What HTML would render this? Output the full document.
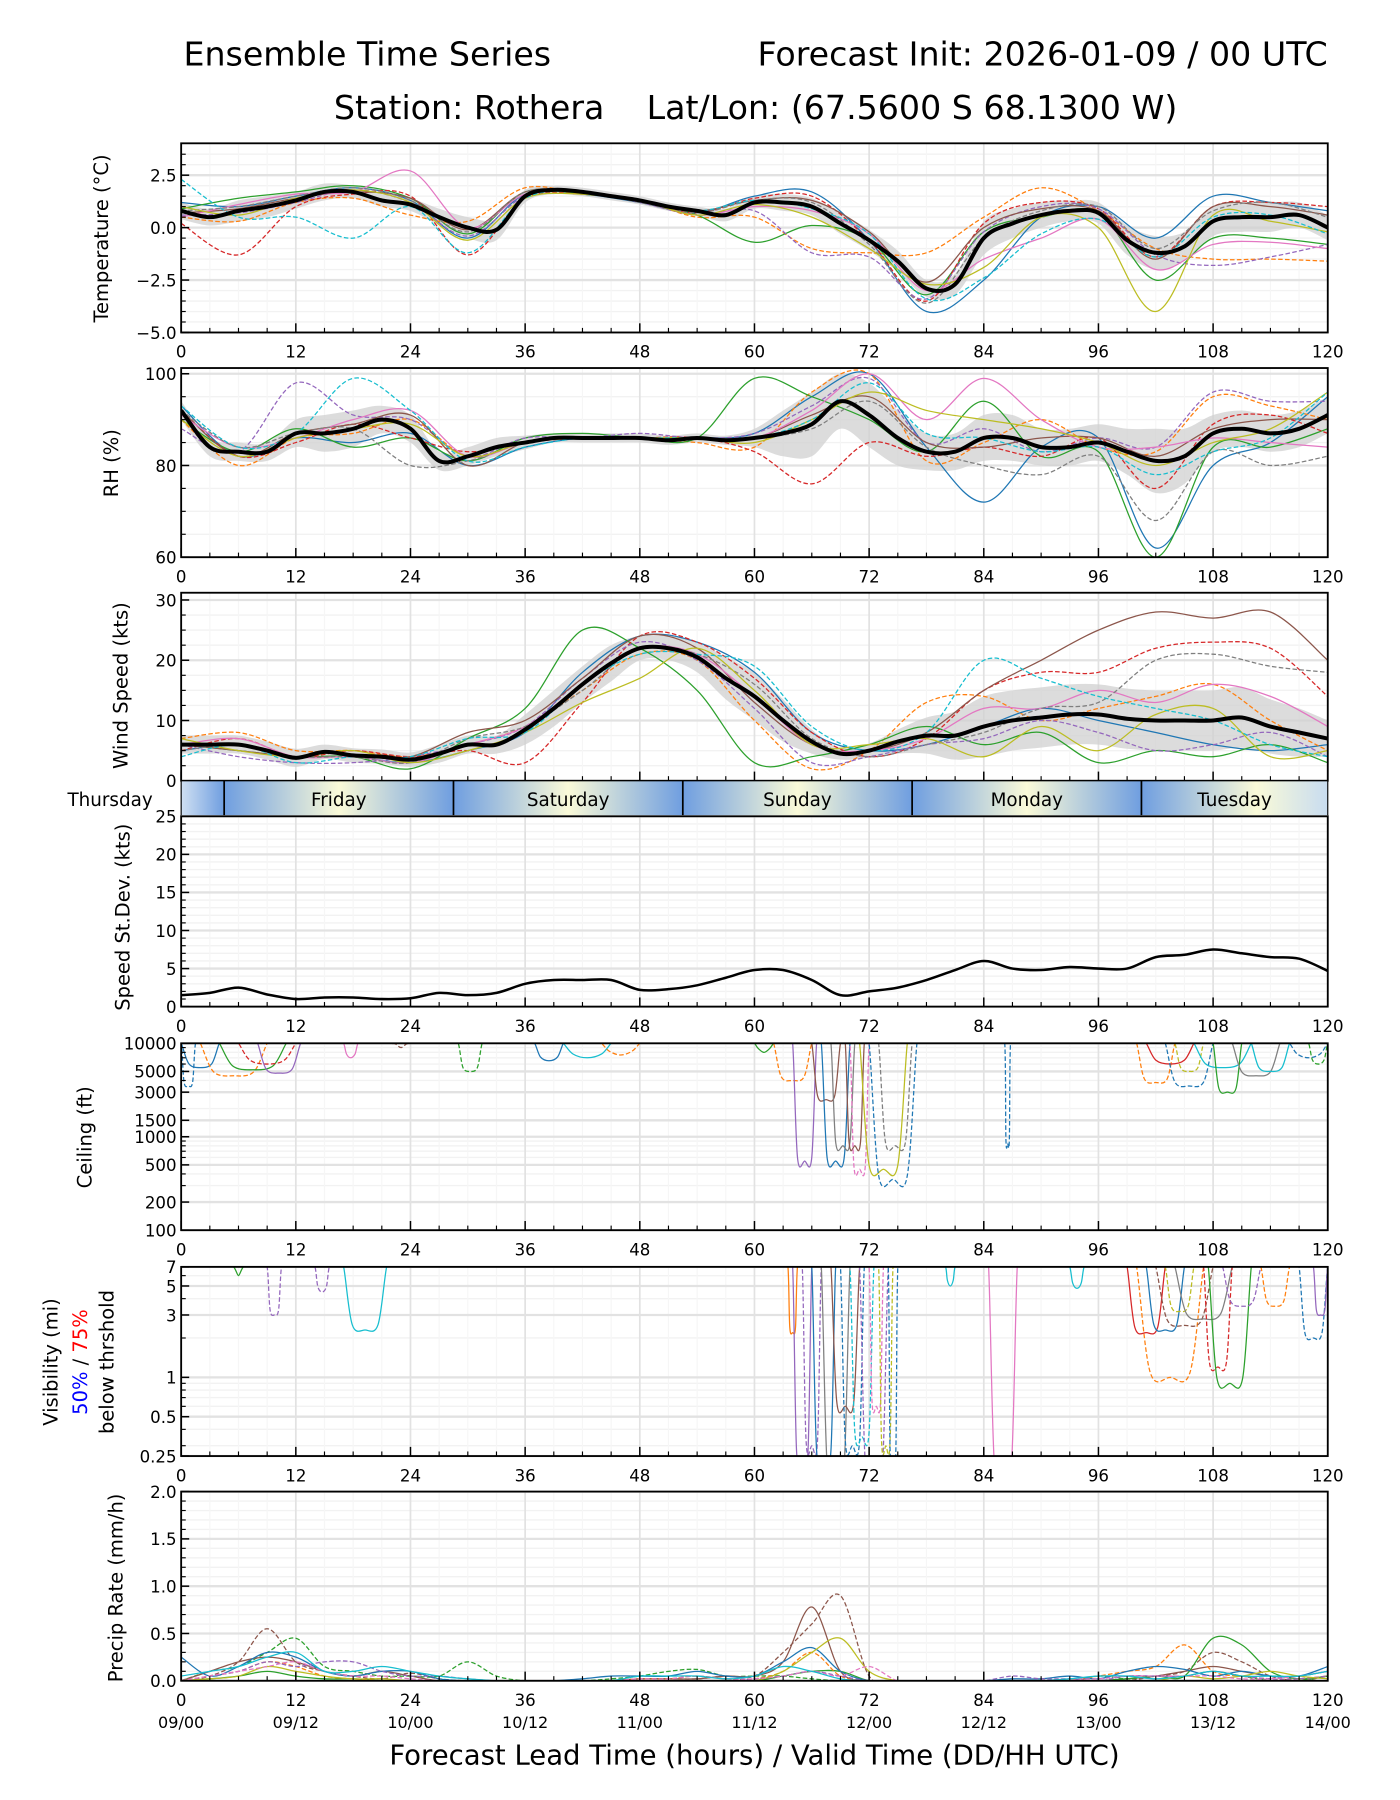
<!DOCTYPE html>
<html><head><meta charset="utf-8"><style>
html,body{margin:0;padding:0;background:#fff;}
svg{display:block;font-family:"DejaVu Sans","Liberation Sans",sans-serif;}
</style></head><body>
<svg id="fig" width="1400" height="1800" viewBox="0 0 1221 1570" preserveAspectRatio="none" xmlns="http://www.w3.org/2000/svg">
<defs id="defs"></defs>
<text x="160" y="57" font-size="29" text-anchor="start">Ensemble Time Series</text>
<text x="1158" y="57" font-size="29" text-anchor="end">Forecast Init: 2026-01-09 / 00 UTC</text>
<text x="659" y="104" font-size="29" text-anchor="middle" xml:space="preserve">Station: Rothera    Lat/Lon: (67.5600 S 68.1300 W)</text>
<text x="658" y="1539" font-size="24" text-anchor="middle">Forecast Lead Time (hours) / Valid Time (DD/HH UTC)</text>
<g id="plots"></g>
</svg>
<script>
// ---------------- data ----------------
const xTicks = [0,12,24,36,48,60,72,84,96,108,120];
const dateLabels = ["09/00","09/12","10/00","10/12","11/00","11/12","12/00","12/12","13/00","13/12","14/00"];
const palette = ["#1f77b4","#ff7f0e","#2ca02c","#d62728","#9467bd","#8c564b","#e377c2","#7f7f7f","#bcbd22","#17becf"];
const dashedMembers = [false,true,false,true,true,false,false,true,false,true];

const tempMean = [0.8,0.5,0.8,1.0,1.3,1.7,1.7,1.3,1.1,0.5,0.0,-0.1,1.5,1.8,1.7,1.5,1.3,1.0,0.8,0.6,1.2,1.2,1.0,0.2,-0.6,-1.6,-2.9,-2.7,-0.5,0.2,0.6,0.8,0.7,-0.6,-1.2,-0.9,0.3,0.5,0.5,0.6,0.0];
const tempSpread = [0.4,0.4,0.5,0.5,0.4,0.4,0.3,0.3,0.3,0.4,0.5,0.5,0.3,0.2,0.2,0.2,0.2,0.2,0.2,0.3,0.3,0.4,0.4,0.5,0.5,0.5,0.4,0.5,0.8,0.7,0.6,0.5,0.5,0.7,0.8,0.7,0.7,0.7,0.7,0.6,0.6];
const tempMembers = [
 [1.2,1.0,1.5,1.9,1.3,-0.5,1.6,1.6,1.2,0.7,1.5,1.7,-0.6,-4.0,-2.5,0.5,1.0,-0.5,1.5,1.2,0.8],
 [0.5,0.3,1.2,1.4,0.6,0.3,1.9,1.6,1.3,0.5,0.5,-1.0,-1.2,-1.2,0.5,1.9,0.8,-1.0,-1.5,-1.5,-1.6],
 [0.9,1.4,1.7,2.0,1.4,-0.3,1.7,1.6,1.3,0.6,-0.7,0.1,-0.6,-3.2,-0.2,0.5,0.7,-2.5,-0.5,-0.5,-0.8],
 [0.2,-1.3,1.0,1.6,1.5,-1.3,1.4,1.6,1.3,0.7,1.4,1.5,-0.6,-3.5,0.2,1.2,0.9,-1.4,1.0,1.2,1.0],
 [0.6,0.7,1.2,1.8,1.2,-0.4,1.5,1.7,1.2,0.6,0.8,-1.2,-1.4,-3.4,-0.2,1.0,0.9,-1.3,-1.8,-1.4,-0.8],
 [0.7,0.9,1.4,1.7,1.4,-0.1,1.7,1.7,1.3,0.8,1.3,1.3,-0.2,-2.6,0.0,0.9,0.8,-1.5,1.0,1.0,0.6],
 [0.5,1.1,1.6,1.7,2.7,0.0,1.6,1.7,1.3,0.6,1.0,0.8,-0.3,-3.0,-1.5,-0.5,0.4,-2.0,-0.8,-0.7,-1.0],
 [0.8,1.0,1.5,1.9,1.3,-0.2,1.7,1.7,1.2,0.7,1.3,1.2,-0.8,-3.6,-0.5,0.8,1.0,-1.0,0.8,1.2,0.5],
 [1.0,0.6,1.4,1.8,1.2,-0.6,1.4,1.6,1.3,0.6,1.1,0.5,-1.0,-2.7,-1.9,0.5,0.0,-4.0,0.6,0.3,-0.2],
 [2.3,0.5,0.5,-0.5,1.0,-1.2,1.4,1.7,1.3,0.8,1.3,0.9,-0.3,-3.4,-2.4,-0.3,0.4,-1.4,0.5,0.6,-0.3]
];
const tempTicks = [2.5,0,-2.5,-5];
const tempTickLabels = ["2.5","0.0","\u22122.5","\u22125.0"];

const rhMean = [92,84,83,83,87,87,88,90,88,81,82,84,85,86,86,86,86,85.5,86,85.5,86,87,89,94,91,86,83,83,86,86,84,84,85,83,81,82,87,88,87,88,91];
const rhSpread = [2,2,2,2,3,4,4,3,3,2,2,2,1.5,1,1,1,1,1,1,1,2,5,7,6,7,6,4,4,5,5,4,4,4,5,7,6,4,4,4,4,4];
const rhMembers = [
 [93,82,86,85,87,80,84,86,86,86,87,95,100,84,72,84,86,62,80,85,95],
 [90,80,86,87,90,82,85,86,86,85,84,96,100,81,85,90,84,83,95,93,90],
 [90,83,88,84,86,81,86,87,86,86,99,95,90,83,94,82,83,60,84,84,88],
 [92,82,85,89,86,83,85,86,86,86,83,76,85,82,84,82,86,75,89,91,87],
 [88,83,98,91,90,82,86,86,87,86,87,93,99,85,88,83,86,84,96,94,94],
 [92,82,87,89,91,80,85,86,86,86,86,91,95,85,84,86,86,82,88,90,90],
 [91,84,86,90,92,82,85,86,86,86,86,92,100,90,99,90,84,84,86,85,84],
 [92,84,87,88,80,81,85,86,86,86,86,88,94,84,80,78,82,68,83,80,82],
 [90,82,86,88,89,82,85,86,86,86,85,90,96,92,90,88,85,80,85,88,96],
 [93,84,87,99,92,81,84,86,86,86,86,90,98,87,86,83,84,78,83,86,96]
];
const rhTicks = [100,80,60];
const rhTickLabels = ["100","80","60"];

const windMean = [6,6,6,5,3.8,4.8,4.2,4.0,3.5,4.5,6,6,8.5,12,16,19.5,22,22,20.5,17,14,10,6.5,4.5,5,6.5,7.5,7.5,9,10,10.5,11,11,10.3,10,10,10,10.5,9,8,7];
const windSpread = [1.5,1.5,1.5,1.5,1.5,1.2,1.2,1.2,1.2,1.5,1.5,1.5,2.5,3,3,3,2,2,2.5,3.5,4,3.5,2,1,1.2,2,3,4,5,5,5,5,5,5,5,5,5,5,4.5,4,3];
const windMembers = [
 [5,6,4,4,3,5,8,18,24,23,18,8,5,6,9,12,10,8,6,5,6],
 [7,8,5,5,4,6,9,15,21,20,10,2,5,13,14,10,12,14,16,10,5],
 [6,5,4,4,2,7,12,25,22,15,3,4,6,9,6,8,3,5,4,6,3],
 [5,7,4,5,4,5,3,13,24,23,17,8,4,7,15,18,18,22,23,22,14],
 [6,4,3,3,4,6,9,17,23,20,12,3,4,6,7,10,8,5,6,8,4],
 [6,5,4,4,4,8,10,17,24,22,13,6,5,8,15,20,25,28,27,28,20],
 [6,7,4,4,3,6,9,16,22,21,14,6,5,7,12,12,15,13,16,14,9],
 [5,6,4,4,3,7,9,15,22,21,16,7,4,6,8,12,13,20,21,19,18],
 [7,5,4,5,3,5,8,13,17,22,15,6,6,7,4,9,5,11,12,4,5],
 [4,6,3,4,4,7,8,16,21,21,19,9,5,8,20,17,14,12,10,6,4]
];
const windTicks = [30,20,10,0];
const windTickLabels = ["30","20","10","0"];

const dayBoundaries = [4.5,28.5,52.5,76.5,100.5];
const dayNames = ["Thursday","Friday","Saturday","Sunday","Monday","Tuesday"];

const sdValues = [1.5,1.8,2.5,1.6,1.0,1.2,1.2,1.0,1.1,1.8,1.5,1.8,3.0,3.5,3.5,3.5,2.2,2.3,2.8,3.8,4.8,4.8,3.5,1.5,2.0,2.5,3.5,4.8,6.0,5.0,4.8,5.2,5.0,5.0,6.5,6.8,7.5,7.0,6.5,6.3,4.7];
const sdTicks = [25,20,15,10,5,0];
const sdTickLabels = ["25","20","15","10","5","0"];

const ceilTicks = [10000,5000,3000,1500,1000,500,200,100];
const ceilTickLabels = ["10000","5000","3000","1500","1000","500","200","100"];
const ceilStart = [0,2,4,6,8,0,17,22,29,37,40,44,60,62,64,66,67,68,69.5,70,71,72,73,86.2,100,101,103,104,106,108,110,112,116,118];
const ceilEnd   = [4,9,11,12,12.5,1.5,18.5,24,31.5,40,45,48,62,66,66.5,69,70,70.5,71.5,72,76,77,76.5,86.8,104,106,108,107,112,111,115,116,120,120];
const ceilMin   = [5500,4500,5200,6000,4800,3500,7000,9000,5000,6500,7000,7500,8000,4000,550,2500,550,800,800,450,450,350,800,850,3800,6000,3500,5000,5500,3000,4500,5000,7000,6000];
const ceilColor = [0,1,2,3,4,0,6,5,2,0,9,1,2,1,4,5,0,7,5,6,8,0,7,0,1,3,0,8,9,2,7,9,0,2];
const ceilDash  = [0,1,0,1,0,1,0,1,1,0,0,1,0,1,0,0,0,0,0,1,0,1,1,1,1,0,1,1,0,0,0,0,1,1];

const visTicks = [7,5,3,1,0.5,0.25];
const visTickLabels = ["7","5","3","1","0.5","0.25"];
const visStart = [5.5,9,14,17,63.5,64,65,66,67,68,69,70,71,72,73,74,80,84.5,93,99,100,101,102,103,104,107,107.5,109,113,117,118.5];
const visEnd   = [6.5,10.5,15.5,21.5,64.5,66,67,68.5,70,71,71.5,72.5,74,73.5,74.5,75,81,87.5,94.5,103,107,105,108,106,110,110,112,113,116,120,120];
const visMin   = [6,3,4.5,2.3,2.2,0.25,0.3,0.25,0.2,0.6,0.3,0.35,0.2,0.6,0.3,0.25,5,0.2,4.8,2.2,1.0,2.3,2.5,3.2,2.8,1.2,0.9,3.5,3.5,2.0,3.0];
const visColor = [2,4,4,9,1,4,4,0,7,5,0,9,4,6,8,0,9,6,9,3,1,0,5,8,7,3,2,4,1,0,4];
const visDash  = [0,1,1,0,0,0,1,0,0,0,1,1,1,1,1,1,0,0,0,0,1,0,1,1,0,1,0,1,1,1,0];

const precipTicks = [2.0,1.5,1.0,0.5,0.0];
const precipTickLabels = ["2.0","1.5","1.0","0.5","0.0"];
const precipColor = [5,2,5,2,1,0,4,8,6,9];
const precipDash  = [1,1,0,0,1,0,1,0,1,0];
const precipMembers = [
 [0,0.05,0.2,0.55,0.2,0.1,0.05,0.02,0.08,0.02,0,0,0,0,0,0,0.02,0.02,0.02,0.05,0.05,0.3,0.6,0.9,0.05,0,0,0,0,0,0,0,0,0,0.05,0.1,0.3,0.2,0.05,0,0.05],
 [0,0.1,0.15,0.3,0.45,0.15,0.1,0.05,0.05,0.05,0.2,0.05,0,0,0,0.02,0.05,0.1,0.12,0.05,0.05,0.05,0.02,0,0,0,0,0,0,0,0,0,0.05,0.02,0.05,0.05,0.1,0.05,0,0,0.05],
 [0,0.1,0.2,0.25,0.2,0.1,0.05,0.1,0.05,0,0,0,0,0,0,0,0.02,0.02,0.02,0.05,0.05,0.2,0.78,0.1,0,0,0,0,0,0,0,0,0,0.02,0.05,0.1,0.15,0.1,0.05,0.05,0.1],
 [0,0.02,0.05,0.1,0.05,0.02,0.02,0,0,0,0,0,0,0,0,0,0,0,0,0,0,0.05,0.1,0.1,0,0,0,0,0,0,0,0,0,0.02,0.05,0.05,0.45,0.38,0.1,0.02,0.05],
 [0,0.05,0.1,0.2,0.15,0.05,0.02,0,0,0,0,0,0,0,0,0,0.02,0.02,0.05,0.02,0.02,0.1,0.3,0.05,0,0,0,0,0,0,0,0,0.05,0.1,0.15,0.38,0.1,0.05,0.02,0.02,0.05],
 [0.25,0.05,0.15,0.3,0.25,0.1,0.05,0.1,0.1,0.02,0,0,0,0,0.02,0.05,0.05,0.05,0.1,0.05,0.05,0.2,0.35,0.1,0,0,0,0,0,0.02,0.02,0.05,0.02,0.1,0.15,0.12,0.05,0.1,0.05,0.05,0.15],
 [0,0.05,0.1,0.2,0.15,0.2,0.2,0.1,0.05,0.05,0.02,0,0,0,0,0,0,0,0,0,0.02,0.05,0.1,0.05,0,0,0,0,0,0.05,0.02,0.02,0,0.05,0.05,0.05,0.1,0.05,0.02,0.02,0.05],
 [0,0.02,0.05,0.15,0.1,0.05,0.02,0.02,0,0,0,0,0,0,0,0,0,0,0,0,0,0.1,0.3,0.45,0.1,0,0,0,0,0,0,0,0,0,0,0.05,0.02,0.05,0.1,0.05,0.02],
 [0,0.05,0.1,0.15,0.2,0.1,0.05,0.05,0.02,0,0,0,0,0,0,0,0.02,0.02,0.05,0.02,0.02,0.05,0.1,0.05,0.15,0,0,0,0,0,0,0.02,0.02,0.05,0.05,0.05,0.05,0.02,0.02,0.05,0.1],
 [0.05,0.1,0.15,0.25,0.3,0.1,0.1,0.15,0.1,0.05,0.02,0,0,0,0,0,0.05,0.05,0.05,0.02,0.05,0.15,0.1,0.02,0,0,0,0,0,0,0,0.02,0.05,0.05,0.02,0.05,0.1,0.05,0.05,0.05,0.1]
];

// ---------------- helpers ----------------
const NS = "http://www.w3.org/2000/svg";
const plots = document.getElementById("plots");
const defs = document.getElementById("defs");
const X0 = 158, X1 = 1158;
function xs(h){ return X0 + h/120*(X1-X0); }
function mk(tag, attrs, parent){
  const e = document.createElementNS(NS, tag);
  for (const k in attrs) e.setAttribute(k, attrs[k]);
  (parent||plots).appendChild(e);
  return e;
}
function smoothPath(pts){
  if (!pts.length) return "";
  let d = "M"+pts[0][0].toFixed(1)+","+pts[0][1].toFixed(1);
  for (let i=0;i<pts.length-1;i++){
    const p0=pts[Math.max(i-1,0)], p1=pts[i], p2=pts[i+1], p3=pts[Math.min(i+2,pts.length-1)];
    const c1x=p1[0]+(p2[0]-p0[0])/6, c1y=p1[1]+(p2[1]-p0[1])/6;
    const c2x=p2[0]-(p3[0]-p1[0])/6, c2y=p2[1]-(p3[1]-p1[1])/6;
    d += "C"+c1x.toFixed(1)+","+c1y.toFixed(1)+" "+c2x.toFixed(1)+","+c2y.toFixed(1)+" "+p2[0].toFixed(1)+","+p2[1].toFixed(1);
  }
  return d;
}
let clipN = 0;
function panel(name, top, bot, yfun, ticks, tickLabels, minorVals){
  const g = mk("g", {});
  
  
  const cid = "clip"+(clipN++);
  const cp = mk("clipPath", {id:cid}, defs);
  mk("rect", {x:X0, y:top, width:X1-X0, height:bot-top}, cp);
  (minorVals||[]).forEach(v=>{ const y=yfun(v); mk("line",{x1:X0,x2:X1,y1:y,y2:y,stroke:"#f2f2f2","stroke-width":1.2},g); });
  for (let h=0; h<=120; h+=3){ if (h%12) { mk("line",{x1:xs(h),x2:xs(h),y1:top,y2:bot,stroke:"#f6f6f6","stroke-width":1},g);} }
  xTicks.forEach(h=>mk("line",{x1:xs(h),x2:xs(h),y1:top,y2:bot,stroke:"#e2e2e2","stroke-width":1.5},g));
  ticks.forEach(v=>{ const y=yfun(v); mk("line",{x1:X0,x2:X1,y1:y,y2:y,stroke:"#e2e2e2","stroke-width":2},g); });
  const data = mk("g", {"clip-path":"url(#"+cid+")"}, g);
  
  
  return {g, data, top, bot, yfun, ticks, tickLabels, minorVals};
}
function finishPanel(p, showX){
  const g = p.g;
  for (let h=0; h<=120; h+=3){
    const major = h%12===0;
    mk("line",{x1:xs(h),x2:xs(h),y1:p.bot,y2:p.bot-(major?8:4),stroke:"#000","stroke-width":major?1.3:1},g);
  }
  p.ticks.forEach((v,i)=>{
    const y=p.yfun(v);
    mk("line",{x1:X0,x2:X0+7,y1:y,y2:y,stroke:"#000","stroke-width":1.3},g);
    const t = mk("text",{x:X0-4,y:y+5.5,"font-size":14.5,"text-anchor":"end"},g);
    t.textContent = p.tickLabels[i];
    
    
  });
  (p.minorVals||[]).forEach(v=>{ const y=p.yfun(v); mk("line",{x1:X0,x2:X0+4,y1:y,y2:y,stroke:"#000","stroke-width":1},g); });
  const fr = mk("rect",{x:X0,y:p.top,width:X1-X0,height:p.bot-p.top,fill:"none",stroke:"#000","stroke-width":1.6},g);
  
  
  if (showX){
    xTicks.forEach(h=>{
      const t = mk("text",{x:xs(h),y:p.bot+22,"font-size":14.5,"text-anchor":"middle"},g);
      t.textContent = h;
      
      
    });
  }
}
function yLabel(text, x, y, name){
  const t = mk("text",{x:x,y:y,"font-size":17,"text-anchor":"middle",transform:"rotate(-90 "+x+" "+y+")"});
  t.textContent = text;
  
  
  return t;
}
function band(p, mean, spread){
  const n = mean.length, up=[], dn=[];
  for (let i=0;i<n;i++){ up.push([xs(i*3), p.yfun(mean[i]+spread[i])]); }
  for (let i=n-1;i>=0;i--){ dn.push([xs(i*3), p.yfun(mean[i]-spread[i])]); }
  const d = smoothPath(up) + smoothPath(dn).replace(/^M/,"L") + "Z";
  const e = mk("path",{d:d,fill:"#d0d0d0","fill-opacity":0.75,stroke:"none"},p.data);
  
  
}
function members(p, arr, step, colors, dashes){
  arr.forEach((m,k)=>{
    const pts = m.map((v,i)=>[xs(i*step), p.yfun(v)]);
    const col = colors ? palette[colors[k]] : palette[k%10];
    const ds = dashes ? dashes[k] : dashedMembers[k%10];
    const e = mk("path",{d:smoothPath(pts),fill:"none",stroke:col,"stroke-width":1.1,"stroke-dasharray":ds?"4,2":"none"},p.data);
    
    
  });
}
function meanLine(p, arr, w){
  const pts = arr.map((v,i)=>[xs(i*3), p.yfun(v)]);
  const e = mk("path",{d:smoothPath(pts),fill:"none",stroke:"#000","stroke-width":w||3.5,"stroke-linejoin":"round"},p.data);
  
  
}
function events(p, st, en, mn, col, dash, topVal, lowFloor){
  st.forEach((s,i)=>{
    const e_ = en[i], d = e_-s, lo = Math.max(mn[i], lowFloor);
    const pts = [[xs(s-0.5),p.yfun(topVal)-3],[xs(s),p.yfun(topVal)],[xs(s+d*0.2),p.yfun(lo*1.1)],[xs(s+d*0.5),p.yfun(lo)],[xs(e_-d*0.2),p.yfun(lo*1.1)],[xs(e_),p.yfun(topVal)],[xs(e_+0.5),p.yfun(topVal)-3]];
    const el = mk("path",{d:smoothPath(pts),fill:"none",stroke:palette[col[i]],"stroke-width":1.1,"stroke-dasharray":dash[i]?"4,2":"none"},p.data);
    
    
  });
}

// ---------------- temperature ----------------
const lin = (top,bot,vmin,vmax)=>v=>bot-(v-vmin)/(vmax-vmin)*(bot-top);
const tMinor=[]; for(let v=-4.5; v<=3.5; v+=0.5){ if (Math.abs(v%2.5)>0.01) tMinor.push(v); }
const pT = panel("temperature",125,290,lin(125,290,-5,4.02),tempTicks,tempTickLabels,tMinor);
band(pT,tempMean,tempSpread); members(pT,tempMembers,6); meanLine(pT,tempMean);
finishPanel(pT,true);
yLabel("Temperature (\u00b0C)",94,208,"temperature-y-axis-title");

// ---------------- RH ----------------
const rMinor=[65,70,75,85,90,95];
const pR = panel("rh",321,486,lin(321,486,60,101.25),rhTicks,rhTickLabels,rMinor);
band(pR,rhMean,rhSpread); members(pR,rhMembers,6); meanLine(pR,rhMean);
finishPanel(pR,true);
yLabel("RH (%)",103,404,"rh-y-axis-title");

// ---------------- wind ----------------
const wMinor=[2.5,5,7.5,12.5,15,17.5,22.5,25,27.5];
const pW = panel("wind",517,681,lin(517,681,0,31.2),windTicks,windTickLabels,wMinor);
band(pW,windMean,windSpread); members(pW,windMembers,6); meanLine(pW,windMean);
finishPanel(pW,false);
yLabel("Wind Speed (kts)",111,598,"wind-y-axis-title");

// ---------------- day band ----------------
(function(){
  const lg = mk("linearGradient",{id:"dayGrad",x1:X0,x2:X1,y1:0,y2:0,gradientUnits:"userSpaceOnUse"},defs);
  const stops=[];
  stops.push([0,"#d0e0f2"]);
  dayBoundaries.forEach(b=>{ stops.push([b-12,"#fafad8"]); stops.push([b,"#6f9ee0"]); });
  stops.push([dayBoundaries[dayBoundaries.length-1]+12,"#fafad8"]);
  stops.push([120,"#c8dcf0"]);
  stops.filter(s=>s[0]>=0&&s[0]<=120).forEach(s=>mk("stop",{offset:(s[0]/120).toFixed(4),"stop-color":s[1]},lg));
  const r = mk("rect",{x:X0,y:681,width:X1-X0,height:31,fill:"url(#dayGrad)",stroke:"#000","stroke-width":1});
  
  
  dayBoundaries.forEach(b=>mk("line",{x1:xs(b),x2:xs(b),y1:681,y2:712,stroke:"#000","stroke-width":1.5}));
  const edges=[0].concat(dayBoundaries).concat([120]);
  dayNames.forEach((n,i)=>{
    let cx = i===0 ? 96 : (xs(edges[i])+xs(edges[i+1]))/2;
    const t = mk("text",{x:cx,y:703,"font-size":16,"text-anchor":"middle"});
    t.textContent = n;
    
    
  });
})();

// ---------------- std dev ----------------
const sMinor=[]; for(let v=1; v<25; v++){ if (v%5) sMinor.push(v); }
const pS = panel("speed-stddev",712,878,lin(712,878,0,25),sdTicks,sdTickLabels,sMinor);
meanLine(pS,sdValues,2.2);
finishPanel(pS,true);
yLabel("Speed St.Dev. (kts)",113,800,"stddev-y-axis-title");

// ---------------- ceiling ----------------
const logy=(top,bot,vmin,vmax)=>v=>bot-(Math.log10(v)-Math.log10(vmin))/(Math.log10(vmax)-Math.log10(vmin))*(bot-top);
const cMinor=[300,400,600,700,800,900,2000,4000,6000,7000,8000,9000];
const pC = panel("ceiling",910,1073,logy(910,1073,100,10000),ceilTicks,ceilTickLabels,cMinor);
events(pC,ceilStart,ceilEnd,ceilMin,ceilColor,ceilDash,10000,100);
finishPanel(pC,true);
yLabel("Ceiling (ft)",80,992,"ceiling-y-axis-title");

// ---------------- visibility ----------------
const vMinor=[0.3,0.4,0.6,0.7,0.8,0.9,2,4,6];
const pV = panel("visibility",1105,1270,logy(1105,1270,0.25,7),visTicks,visTickLabels,vMinor);
events(pV,visStart,visEnd,visMin,visColor,visDash,7,0.2);
finishPanel(pV,true);
yLabel("Visibility (mi)",50,1188,"visibility-y-axis-title");
(function(){
  const t = mk("text",{x:76,y:1188,"font-size":17,"text-anchor":"middle",transform:"rotate(-90 76 1188)"});
  
  
  const a = mk("tspan",{fill:"#0000ff"},t); a.textContent="50%";
  const b = mk("tspan",{fill:"#000"},t); b.textContent=" / ";
  const c = mk("tspan",{fill:"#ff0000"},t); c.textContent="75%";
})();
yLabel("below thrshold",99,1188,"visibility-threshold-caption");

// ---------------- precip ----------------
const prMinor=[]; for(let v=0.1; v<2; v+=0.1){ const r=Math.round(v*10); if (r%5) prMinor.push(r/10); }
const pP = panel("precip",1301,1466,lin(1301,1466,0,2),precipTicks,precipTickLabels,prMinor);
members(pP,precipMembers,3,precipColor,precipDash);
finishPanel(pP,true);
yLabel("Precip Rate (mm/h)",107,1385,"precip-y-axis-title");
dateLabels.forEach((d,i)=>{
  const t = mk("text",{x:xs(xTicks[i]),y:1507,"font-size":14,"text-anchor":"middle"});
  t.textContent = d;
  
  
});
</script>
</body></html>
